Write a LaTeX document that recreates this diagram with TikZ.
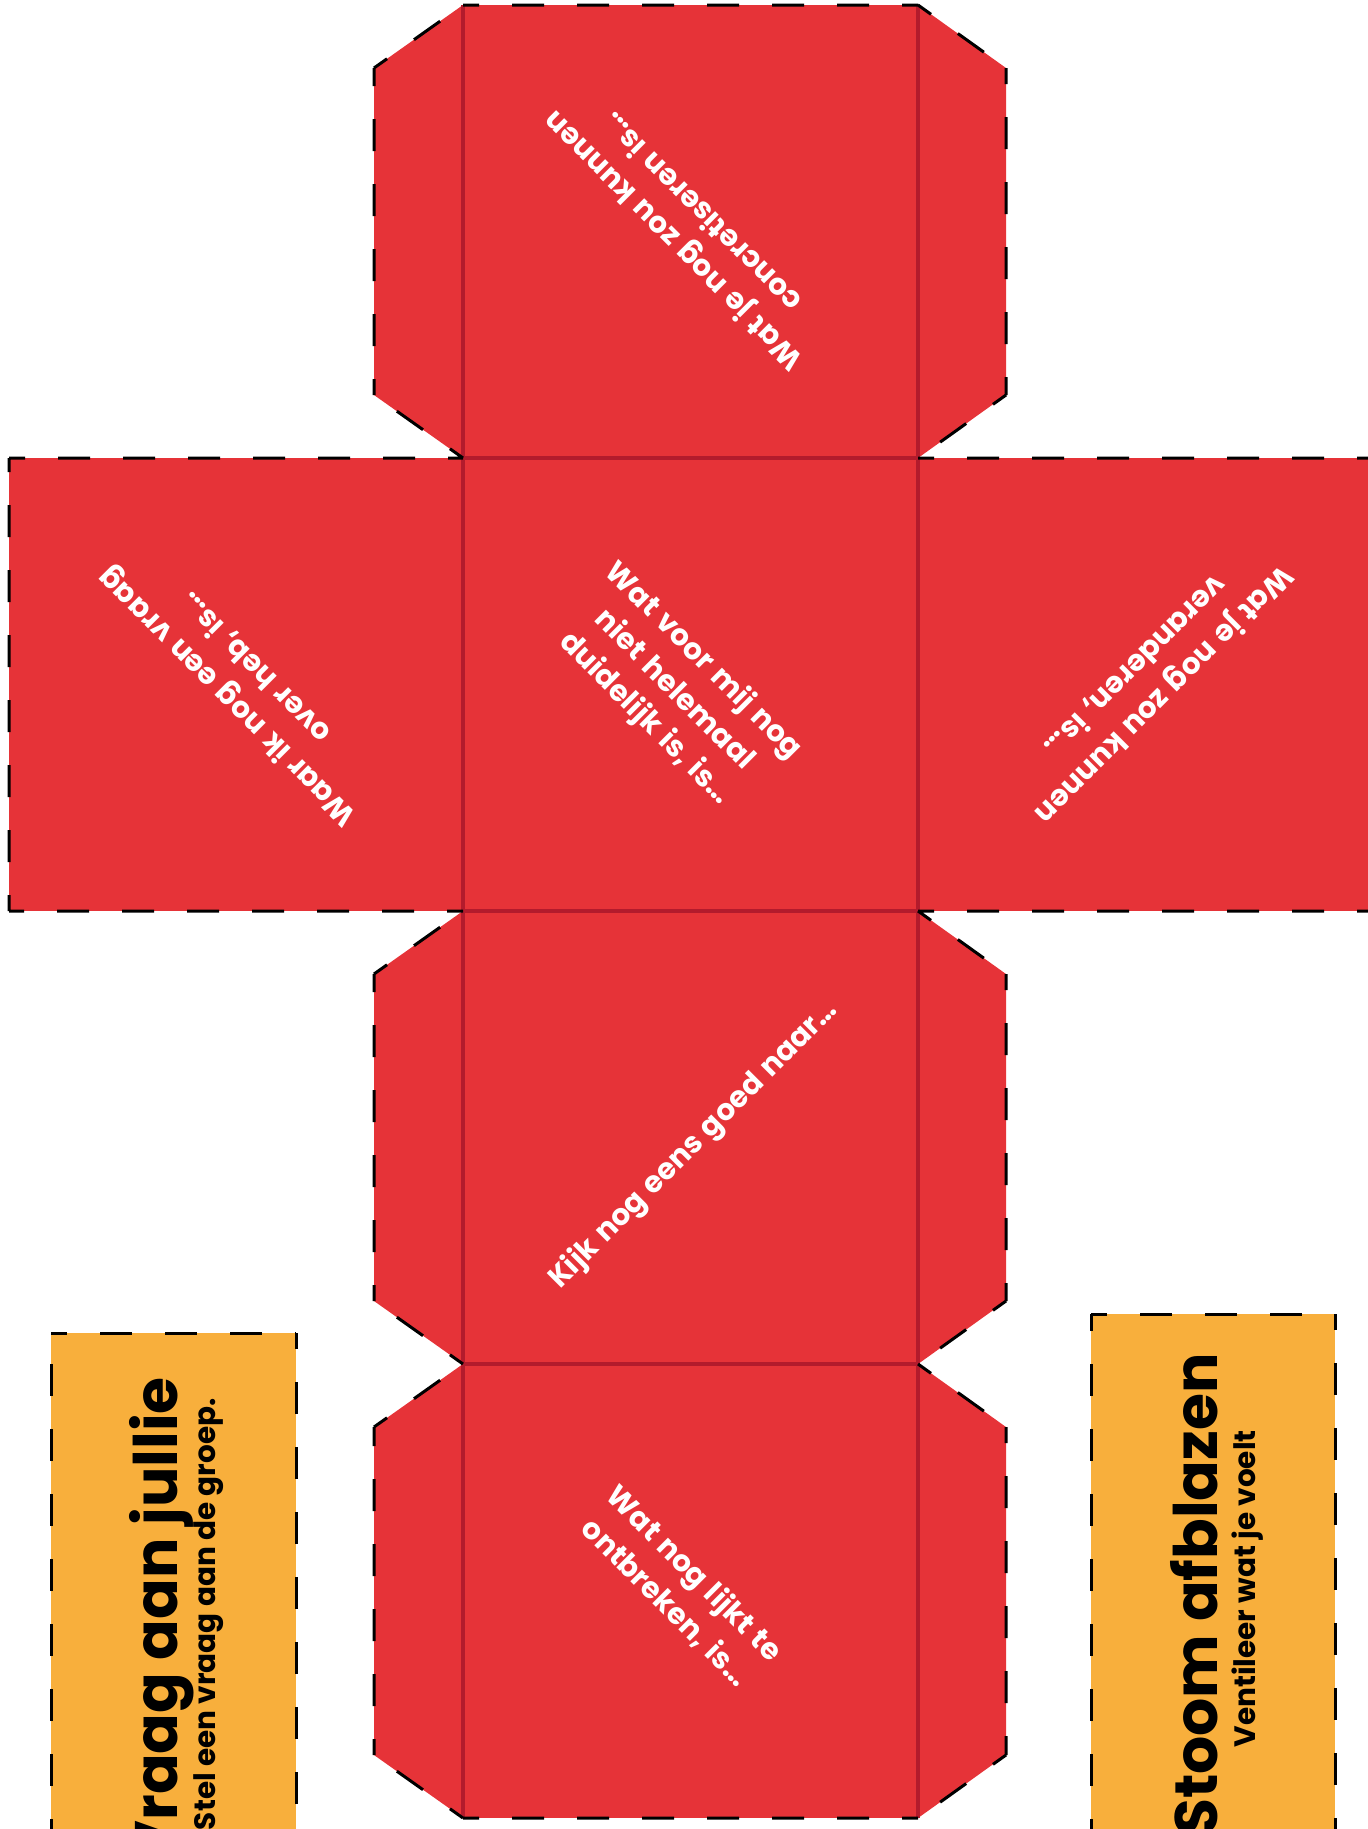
\documentclass[tikz,border=0pt]{standalone}
\usepackage{fontspec}
\setmainfont{Poppins}[WordSpace=1.35]
\newfontfamily\labelfont{Poppins}
\definecolor{cubered}{HTML}{E63338}
\definecolor{foldred}{HTML}{B31B2C}
\definecolor{tagorange}{HTML}{F8AF3C}
\tikzset{
  cutline/.style={draw=black, line width=3pt, dash pattern=on 32pt off 33pt, dash phase=16pt},
  foldline/.style={draw=foldred, line width=4pt},
  facetext/.style={text=white, font=\bfseries\fontsize{29.5}{41}\selectfont, align=center, inner sep=0pt},
  titletext/.style={text=black, font=\labelfont\bfseries\fontsize{60}{60}\selectfont, inner sep=0pt, anchor=base east},
  subtext/.style={text=black, font=\labelfont\bfseries\fontsize{29.5}{32}\selectfont, inner sep=0pt, anchor=base east},
}
\newcommand{\mytabpair}[2]{%
  \fill[cubered] (463,#1) -- (374,{#1+63}) -- (374,{#2-63}) -- (463,#2) -- cycle;
  \fill[cubered] (918,#1) -- (1006,{#1+63}) -- (1006,{#2-63}) -- (918,#2) -- cycle;
}
\begin{document}
\begin{tikzpicture}[x=1pt,y=-1pt]
\useasboundingbox (0,0) rectangle (1368,1829);
\clip (0,0) rectangle (1368,1829);
% red net
\fill[cubered] (463,5) rectangle (918,1818);
\fill[cubered] (9,458) rectangle (1373,911);
\mytabpair{5}{458}
\mytabpair{911}{1364}
\mytabpair{1364}{1818}
% fold lines
\draw[foldline] (463,5) -- (463,1818);
\draw[foldline] (918,5) -- (918,1818);
\draw[foldline] (463,458) -- (918,458);
\draw[foldline] (463,911) -- (918,911);
\draw[foldline] (463,1364) -- (918,1364);
% cut outline
\draw[cutline]
  (463,5) -- (918,5)
  (918,5) -- (1006,68)
  (1006,68) -- (1006,395)
  (1006,395) -- (918,458)
  (918,458) -- (1373,458)
  (1373,911) -- (918,911)
  (918,911) -- (1006,974)
  (1006,974) -- (1006,1301)
  (1006,1301) -- (918,1364)
  (918,1364) -- (1006,1427)
  (1006,1427) -- (1006,1755)
  (1006,1755) -- (918,1818)
  (918,1818) -- (463,1818)
  (463,1818) -- (374,1755)
  (374,1755) -- (374,1427)
  (374,1427) -- (463,1364)
  (463,1364) -- (374,1301)
  (374,1301) -- (374,974)
  (374,974) -- (463,911)
  (463,911) -- (9,911)
  (9,911) -- (9,458)
  (9,458) -- (463,458)
  (463,458) -- (374,395)
  (374,395) -- (374,68)
  (374,68) -- (463,5);
% face texts
\node[facetext, rotate=135] (ftop) at (686,228) {Wat je nog zou kunnen\\concretiseren is…};
\node[facetext, rotate=-45] (fmid) at (674,690) {Wat voor mij nog\\niet helemaal\\duidelijk is, is…};
\node[facetext, rotate=135] (fleft) at (241,683) {Waar ik nog een vraag\\over heb, is…};
\node[facetext, rotate=225] (fright) at (1150,681) {Wat je nog zou kunnen\\veranderen, is…};
\node[facetext, rotate=45] (frow3) at (694,1145) {Kijk nog eens goed naar…};
\node[facetext, rotate=-45] (fbot) at (680,1588) {Wat nog lijkt te\\ontbreken, is…};
% orange labels
\fill[tagorange] (51,1333) rectangle (296,1900);
\draw[cutline] (51,1900) -- (51,1333) (51,1333) -- (296,1333) (296,1333) -- (296,1900);
\fill[tagorange] (1091,1314) rectangle (1335,1900);
\draw[cutline] (1091,1900) -- (1091,1314) (1091,1314) -- (1335,1314) (1335,1314) -- (1335,1900);
\node[titletext, rotate=90] (tleft) at (177,1377) {Vraag aan jullie};
\node[subtext, rotate=90] (sleft) at (215,1398) {Stel een vraag aan de groep.};
\node[titletext, rotate=90] (tright) at (1217,1353) {Stoom afblazen};
\node[subtext, rotate=90] (sright) at (1255,1430) {Ventileer wat je voelt};
\end{tikzpicture}
\end{document}
